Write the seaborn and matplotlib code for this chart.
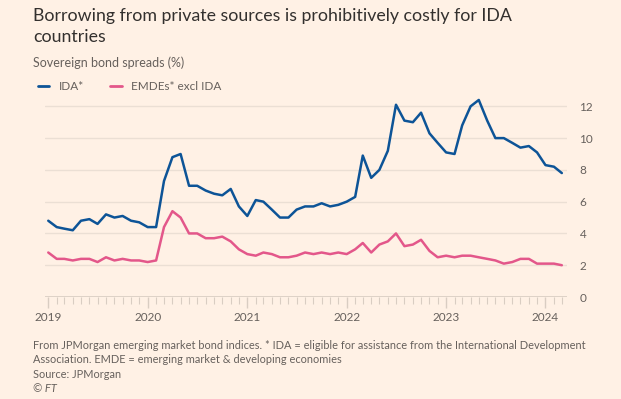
import numpy as np
import pandas as pd
import seaborn as sns
import matplotlib.pyplot as plt
import matplotlib.dates as mdates
from matplotlib.lines import Line2D

# monthly sovereign bond spreads (%), Jan 2019 - Mar 2024
months = pd.date_range("2019-01-01", "2024-03-01", freq="MS")

ida = [
    4.8, 4.4, 4.3, 4.2, 4.8, 4.9, 4.6, 5.2, 5.0, 5.1, 4.8, 4.7,
    4.4, 4.4, 7.3, 8.8, 9.0, 7.0, 7.0, 6.7, 6.5, 6.4, 6.8, 5.7,
    5.1, 6.1, 6.0, 5.5, 5.0, 5.0, 5.5, 5.7, 5.7, 5.9, 5.7, 5.8,
    6.0, 6.3, 8.9, 7.5, 8.0, 9.2, 12.1, 11.1, 11.0, 11.6, 10.3, 9.7,
    9.1, 9.0, 10.8, 12.0, 12.4, 11.1, 10.0, 10.0, 9.7, 9.4, 9.5, 9.1,
    8.3, 8.2, 7.8,
]
emdes = [
    2.8, 2.4, 2.4, 2.3, 2.4, 2.4, 2.2, 2.5, 2.3, 2.4, 2.3, 2.3,
    2.2, 2.3, 4.4, 5.4, 5.0, 4.0, 4.0, 3.7, 3.7, 3.8, 3.5, 3.0,
    2.7, 2.6, 2.8, 2.7, 2.5, 2.5, 2.6, 2.8, 2.7, 2.8, 2.7, 2.8,
    2.7, 3.0, 3.4, 2.8, 3.3, 3.5, 4.0, 3.2, 3.3, 3.6, 2.9, 2.5,
    2.6, 2.5, 2.6, 2.6, 2.5, 2.4, 2.3, 2.1, 2.2, 2.4, 2.4, 2.1,
    2.1, 2.1, 2.0,
]
series_names = ["IDA*", "EMDEs* excl IDA"]
colors = ["#0D5497", "#E3578A"]
y_ticks = [0, 2, 4, 6, 8, 10, 12]

df = pd.concat([
    pd.DataFrame({"date": months, "spread": ida, "series": series_names[0]}),
    pd.DataFrame({"date": months, "spread": emdes, "series": series_names[1]}),
])

bg = "#FFF1E5"
text_col = "#33302E"
grey = "#66605C"
axis_col = "#D9CDC2"

sns.set_theme(style="white")
plt.rcParams["font.family"] = ["Lato", "DejaVu Sans"]

fig = plt.figure(figsize=(6.21, 3.99), dpi=100, facecolor=bg)
ax = fig.add_axes([45 / 621, 1 - 297 / 399, 522 / 621, (297 - 96) / 399])
ax.set_facecolor(bg)

sns.lineplot(data=df, x="date", y="spread", hue="series",
             palette=dict(zip(series_names, colors)), linewidth=1.8,
             legend=False, ax=ax, zorder=3)

ax.set_ylim(0, 12.65)
ax.set_xlim(pd.Timestamp("2018-12-20"), pd.Timestamp("2024-03-20"))
ax.set_yticks(y_ticks)
ax.yaxis.tick_right()
ax.grid(axis="y", color="#EBDFD4", linewidth=1)
ax.grid(axis="x", visible=False)
for s in ax.spines.values():
    s.set_visible(False)
ax.axhline(0, color=axis_col, linewidth=1.2, zorder=2)

ax.xaxis.set_major_locator(mdates.YearLocator())
ax.xaxis.set_major_formatter(mdates.DateFormatter("%Y"))
ax.xaxis.set_minor_locator(mdates.MonthLocator())
ax.tick_params(axis="x", which="both", bottom=True, direction="out")
ax.tick_params(axis="x", which="major", length=8, width=1, color=axis_col,
               labelsize=8.5, labelcolor=grey, pad=3)
ax.tick_params(axis="x", which="minor", length=5, width=0.8, color=axis_col)
ax.tick_params(axis="y", length=0, labelsize=8.5, labelcolor=grey, pad=9)
ax.set_xlabel("")
ax.set_ylabel("")

fig.text(33 / 621, 1 - 8 / 399,
         "Borrowing from private sources is prohibitively costly for IDA\ncountries",
         ha="left", va="top", fontsize=12.8, color=text_col, linespacing=1.35)
fig.text(33 / 621, 1 - 63 / 399, "Sovereign bond spreads (%)",
         ha="left", va="center", fontsize=9, color=grey)

handles = [Line2D([], [], color=c, linewidth=2) for c in colors]
fig.legend(handles, series_names, loc="center left",
           bbox_to_anchor=(27 / 621, 1 - 87 / 399), ncol=2, frameon=False,
           fontsize=8.5, handlelength=1.0, handletextpad=0.8,
           columnspacing=2.2, labelcolor=grey)

foot = ("From JPMorgan emerging market bond indices. * IDA = eligible for assistance from the International Development\n"
        "Association. EMDE = emerging market & developing economies\n"
        "Source: JPMorgan")
fig.text(33 / 621, 1 - 340 / 399, foot, ha="left", va="top",
         fontsize=7.95, color=grey, linespacing=1.38)
fig.text(33 / 621, 1 - 388 / 399, "© FT", ha="left", va="center",
         fontsize=8, color=grey, style="italic")

fig.savefig("out.png", dpi=100, facecolor=bg)
